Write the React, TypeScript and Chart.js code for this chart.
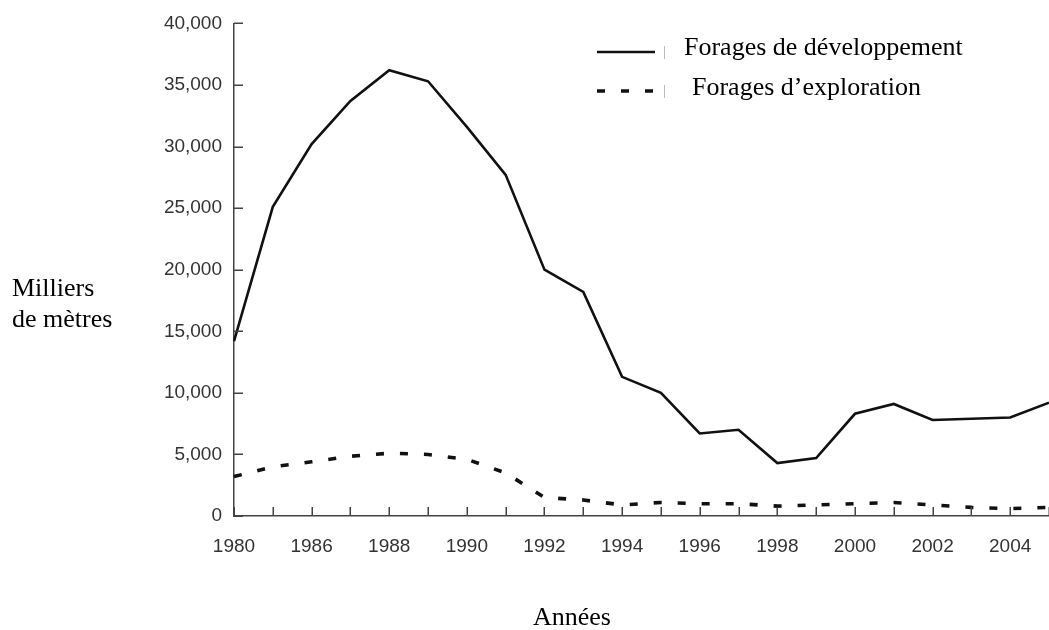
import React, { useEffect, useRef } from 'react';
import { Chart, registerables } from 'chart.js';

Chart.register(...registerables);

const years = ['1980', '1985', '1986', '1987', '1988', '1989', '1990', '1991', '1992', '1993', '1994', '1995', '1996', '1997', '1998', '1999', '2000', '2001', '2002', '2003', '2004', '2005'];
const developpement = [14200, 25100, 30200, 33700, 36200, 35300, 31600, 27700, 20000, 18200, 11300, 10000, 6700, 7000, 4300, 4700, 8300, 9100, 7800, 7900, 8000, 9200];
const exploration = [3200, 4000, 4400, 4850, 5100, 5000, 4600, 3500, 1500, 1300, 900, 1100, 1000, 1000, 800, 900, 1000, 1100, 900, 700, 600, 700];
const seriesNames = ['Forages de développement', 'Forages d\u2019exploration'];
const yAxisTitle = ['Milliers', 'de mètres'];
const xAxisTitle = 'Années';
const yMin = 0;
const yMax = 40000;
const yStep = 5000;

const W = 1049;
const H = 630;
const AXIS_COLOR = '#444';
const TICK_TEXT = '#333';
const SERIF = '"Liberation Serif", "Times New Roman", serif';
const SANS = '"Liberation Sans", Arial, sans-serif';
const SERIF_SIZE = 26;

const innerTicks = {
  id: 'innerTicks',
  afterDatasetsDraw(chart: any) {
    const { ctx, chartArea, scales } = chart;
    const x = scales.x;
    const y = scales.y;
    ctx.save();
    ctx.strokeStyle = AXIS_COLOR;
    ctx.lineWidth = 1.5;
    ctx.beginPath();
    y.ticks.forEach((_t: any, i: number) => {
      const py = Math.round(y.getPixelForTick(i)) + 0.25;
      ctx.moveTo(chartArea.left, py);
      ctx.lineTo(chartArea.left + 9, py);
    });
    x.ticks.forEach((_t: any, i: number) => {
      const px = Math.round(x.getPixelForTick(i)) + 0.25;
      ctx.moveTo(px, chartArea.bottom);
      ctx.lineTo(px, chartArea.bottom - 9);
    });
    ctx.stroke();
    ctx.restore();
  },
};

const legendSamples = {
  id: 'legendSamples',
  afterDraw(chart: any) {
    const { ctx } = chart;
    const rows = [52, 91];
    chart.data.datasets.forEach((ds: any, i: number) => {
      const yy = rows[i];
      ctx.save();
      ctx.strokeStyle = ds.borderColor;
      ctx.lineWidth = ds.borderWidth;
      ctx.setLineDash(ds.borderDash || []);
      ctx.beginPath();
      ctx.moveTo(597, yy);
      ctx.lineTo(655, yy);
      ctx.stroke();
      ctx.setLineDash([]);
      ctx.strokeStyle = '#bbb';
      ctx.lineWidth = 1;
      ctx.beginPath();
      ctx.moveTo(664.5, yy - 6);
      ctx.lineTo(664.5, yy + 7);
      ctx.stroke();
      ctx.restore();
    });
  },
};

function TextAt(props: { text: string; left: number; baseline: number; center?: boolean }) {
  const top = props.baseline - 0.8375 * SERIF_SIZE;
  return (
    <div
      style={{
        position: 'absolute',
        left: props.left,
        top,
        fontFamily: SERIF,
        fontSize: SERIF_SIZE,
        lineHeight: `${SERIF_SIZE}px`,
        color: '#000',
        whiteSpace: 'nowrap',
        transform: props.center ? 'translateX(-50%)' : undefined,
      }}
    >
      {props.text}
    </div>
  );
}

export default function App() {
  const ref = useRef<HTMLCanvasElement | null>(null);

  useEffect(() => {
    if (!ref.current) return;
    const chart = new Chart(ref.current, {
      type: 'line',
      data: {
        labels: years,
        datasets: [
          {
            label: seriesNames[0],
            data: developpement,
            borderColor: '#111',
            borderWidth: 2.6,
            pointRadius: 0,
            tension: 0,
            fill: false,
          },
          {
            label: seriesNames[1],
            data: exploration,
            borderColor: '#111',
            borderWidth: 3.6,
            borderDash: [8, 16],
            pointRadius: 0,
            tension: 0,
            fill: false,
          },
        ],
      },
      options: {
        responsive: false,
        animation: false,
        devicePixelRatio: 1,
        layout: { padding: { top: 16, left: 0, right: 0, bottom: 0 } },
        plugins: {
          legend: { display: false },
          tooltip: { enabled: false },
          title: { display: false },
        },
        scales: {
          x: {
            type: 'category',
            offset: false,
            grid: { display: true, drawOnChartArea: false, drawTicks: false },
            border: { display: true, color: AXIS_COLOR, width: 1.5 },
            ticks: {
              autoSkip: false,
              maxRotation: 0,
              minRotation: 0,
              padding: 19,
              color: TICK_TEXT,
              font: { family: SANS, size: 19 },
              callback: (_v: any, index: number) => (index % 2 === 0 ? years[index] : ''),
            },
            afterFit: (scale: any) => {
              scale.height = 114;
              scale.paddingRight = 0;
            },
          },
          y: {
            min: yMin,
            max: yMax,
            grid: { display: true, drawOnChartArea: false, drawTicks: false },
            border: { display: true, color: AXIS_COLOR, width: 1.5 },
            ticks: {
              stepSize: yStep,
              padding: 12,
              color: TICK_TEXT,
              font: { family: SANS, size: 19 },
              callback: (v: any) => Number(v).toLocaleString('en-US'),
            },
            afterFit: (scale: any) => {
              scale.width = 234;
            },
          },
        },
      },
      plugins: [innerTicks, legendSamples],
    });
    return () => chart.destroy();
  }, []);

  return (
    <div style={{ position: 'absolute', left: 0, top: 0, width: W, height: H, background: '#fff', overflow: 'hidden' }}>
      <canvas ref={ref} width={W} height={H} style={{ position: 'absolute', left: 0, top: 0, width: W, height: H }} />
      <TextAt text={yAxisTitle[0]} left={12} baseline={297} />
      <TextAt text={yAxisTitle[1]} left={12} baseline={328} />
      <TextAt text={seriesNames[0]} left={684} baseline={56} />
      <TextAt text={seriesNames[1]} left={692} baseline={96} />
      <TextAt text={xAxisTitle} left={572} baseline={626} center />
    </div>
  );
}
